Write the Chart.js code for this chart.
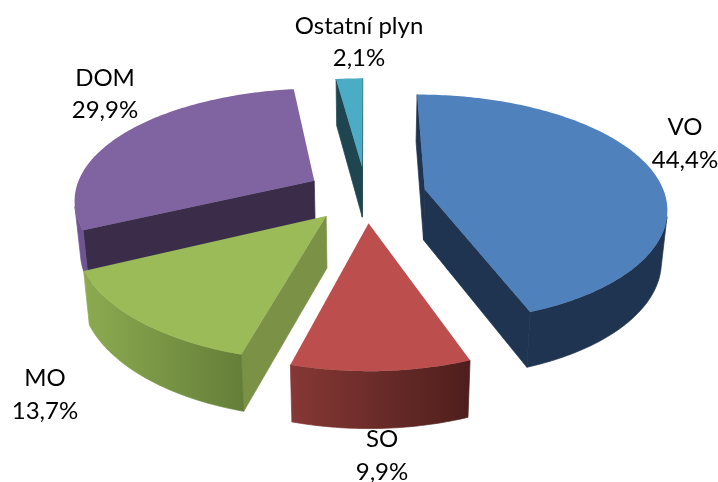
<!DOCTYPE html>
<html>
<head>
<meta charset="utf-8">
<style>html,body{margin:0;padding:0;background:#fff}canvas{display:block}</style>
<script src="https://cdn.jsdelivr.net/npm/chart.js@4"></script>
</head>
<body>
<canvas id="c" width="718" height="482"></canvas>
<script>
const categories = ["VO", "SO", "MO", "DOM", "Ostatní plyn"];
const shares = [44.4, 9.9, 13.7, 29.9, 2.1];
const shareLabels = ["44,4%", "9,9%", "13,7%", "29,9%", "2,1%"];
const topColors = ["#4F81BD", "#BC4F4D", "#9BBB59", "#8064A2", "#4BACC6"];
const sideColors = ["#1F3450", "#7A3230", "#7A9146", "#3B2D4A", "#1F4650"];
const rimFrom = ["#1F3450", "#863835", "#8CAB50", "#6E5490", "#1F4650"];
const rimTo = ["#1F3450", "#4E1E1C", "#647E38", "#6E5490", "#1F4650"];
const labelAnchors = [[685,127],[382,439],[45,378],[105,78],[359,26]];
const percentAnchors = [[685,160],[382,472],[45,411],[105,110],[359,58]];
const drawOrder = [4, 3, 0, 2, 1];

const CX = 366, CY = 194, RX = 240, RY = 112, PERSP = 0.168, EXPLODE = 0.25, DEPTH = 51, SHRINK = 0.98, XPOW = 0.9;

function project(u, v, bottom) {
  const s = 1 / (1 - PERSP * v);
  const sx = Math.pow(s, XPOW);
  if (!bottom) return [CX + RX * u * sx, CY + RY * v * s];
  return [CX + RX * u * sx * SHRINK, CY + RY * v * s + DEPTH * Math.sqrt(s)];
}
function area(pts) {
  let a = 0;
  for (let i = 0; i < pts.length; i++) {
    const p = pts[i], q = pts[(i + 1) % pts.length];
    a += p[0] * q[1] - q[0] * p[1];
  }
  return a;
}
function fillPoly(ctx, pts, fill, seal) {
  ctx.beginPath();
  pts.forEach((p, i) => i ? ctx.lineTo(p[0], p[1]) : ctx.moveTo(p[0], p[1]));
  ctx.closePath();
  ctx.fillStyle = fill;
  ctx.fill();
  if (seal) {
    ctx.strokeStyle = fill;
    ctx.lineWidth = 0.7;
    ctx.stroke();
  }
}

const pie3d = {
  id: "pie3d",
  beforeDatasetDraw(chart) {
    const ctx = chart.ctx;
    const arcs = chart.getDatasetMeta(0).data;
    ctx.save();
    drawOrder.forEach(i => {
      const el = arcs[i];
      const a0 = el.startAngle, a1 = el.endAngle, mid = (a0 + a1) / 2;
      const ox = EXPLODE * Math.cos(mid), oy = EXPLODE * Math.sin(mid);
      const n = Math.max(2, Math.ceil((a1 - a0) / (Math.PI / 180)));
      const outerUV = [];
      for (let k = 0; k <= n; k++) {
        const a = a0 + (a1 - a0) * k / n;
        outerUV.push([ox + Math.cos(a), oy + Math.sin(a)]);
      }
      const apexT = project(ox, oy, false), apexB = project(ox, oy, true);
      const topArc = outerUV.map(p => project(p[0], p[1], false));
      const botArc = outerUV.map(p => project(p[0], p[1], true));
      // radial walls
      [[apexT, apexB, topArc[0], botArc[0]], [topArc[n], botArc[n], apexT, apexB]].forEach(w => {
        const quad = [w[0], w[2], w[3], w[1]];
        if (area(quad) < 0) fillPoly(ctx, quad, sideColors[i], true);
      });
      // curved rim: only the segments turned to the viewer
      const upper = [], lower = [];
      for (let k = 0; k < n; k++) {
        if (area([topArc[k], topArc[k + 1], botArc[k + 1], botArc[k]]) < 0) {
          if (!upper.length) { upper.push(topArc[k]); lower.push(botArc[k]); }
          upper.push(topArc[k + 1]); lower.push(botArc[k + 1]);
        }
      }
      if (upper.length) {
        const all = upper.concat(lower.slice().reverse());
        const xs = all.map(p => p[0]);
        const g = ctx.createLinearGradient(Math.min(...xs), 0, Math.max(...xs), 0);
        g.addColorStop(0, rimFrom[i]);
        g.addColorStop(1, rimTo[i]);
        fillPoly(ctx, all, g, true);
      }
      // top face
      fillPoly(ctx, [apexT].concat(topArc), el.options.backgroundColor, false);
    });
    ctx.restore();
    return false;
  },
  afterDraw(chart) {
    const ctx = chart.ctx;
    ctx.save();
    ctx.fillStyle = "#000";
    ctx.font = '24px Lato, "Open Sans", sans-serif';
    ctx.textAlign = "center";
    ctx.textBaseline = "middle";
    categories.forEach((name, i) => {
      ctx.fillText(name, labelAnchors[i][0], labelAnchors[i][1]);
      ctx.fillText(shareLabels[i], percentAnchors[i][0], percentAnchors[i][1]);
    });
    ctx.restore();
  }
};

new Chart(document.getElementById("c"), {
  type: "pie",
  data: {
    labels: categories,
    datasets: [{ data: shares, backgroundColor: topColors, borderWidth: 0 }]
  },
  options: {
    responsive: false,
    animation: false,
    plugins: { legend: { display: false }, tooltip: { enabled: false } }
  },
  plugins: [pie3d]
});
</script>
</body>
</html>
